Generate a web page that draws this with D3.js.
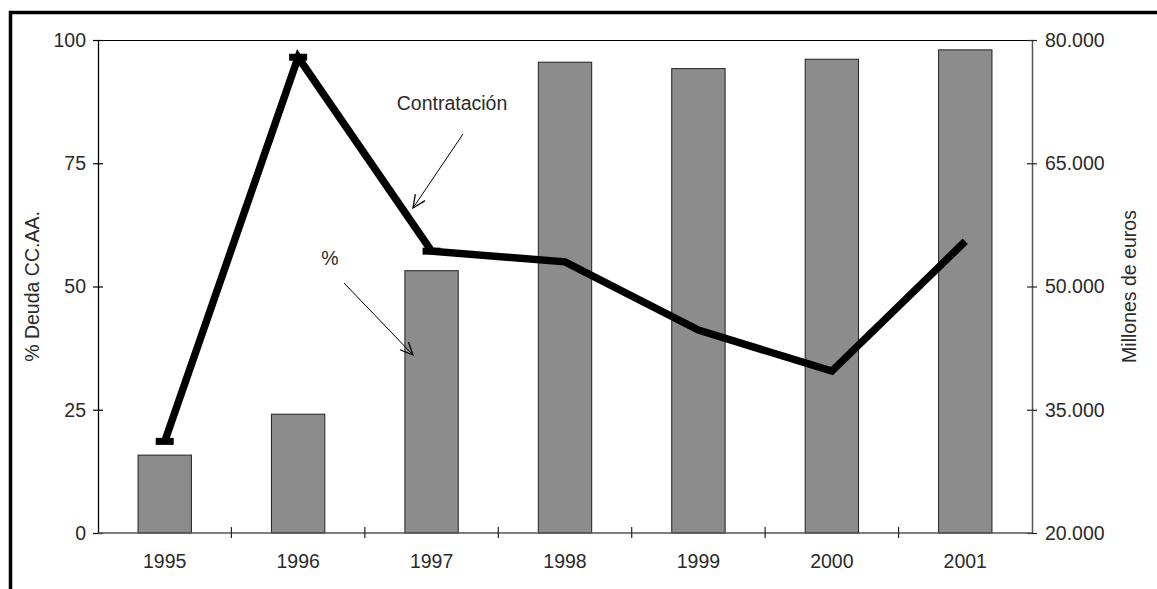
<!DOCTYPE html>
<html>
<head>
<meta charset="utf-8">
<script src="https://cdn.jsdelivr.net/npm/d3@7"></script>
<style>
  body { margin: 0; background: #fff; }
  text { font-family: "Liberation Sans", Arial, sans-serif; fill: #2a2a2a; }
</style>
</head>
<body>
<svg id="chart" width="1157" height="589"></svg>
<script>
// chart data
const years = ["1995", "1996", "1997", "1998", "1999", "2000", "2001"];
const pctDeuda = [15.8, 24.1, 53.2, 95.5, 94.2, 96.1, 98.0];
const contratacion = [31150, 77900, 54300, 53000, 44700, 39700, 55500];
const showMarker = [true, true, true, false, false, false, false];
const leftTicks = [0, 25, 50, 75, 100];
const rightTicks = [20000, 35000, 50000, 65000, 80000];

const width = 1157, height = 589;
const margin = {top: 40, right: 125, bottom: 56, left: 98};
const fs = "19.5px";

const svg = d3.select("#chart");

// outer frame (cut off at right and bottom)
svg.append("rect")
  .attr("x", 10.5).attr("y", 12.5)
  .attr("width", 1200).attr("height", 700)
  .attr("fill", "none").attr("stroke", "#000").attr("stroke-width", 3.5);

const x = d3.scaleBand()
  .domain(years)
  .range([margin.left, width - margin.right])
  .paddingInner(0.6).paddingOuter(0.3);

const xTicks = d3.scaleLinear()
  .domain([0, years.length])
  .range([margin.left, width - margin.right]);

const yL = d3.scaleLinear().domain([0, 100]).range([height - margin.bottom, margin.top]);
const yR = d3.scaleLinear().domain([20000, 80000]).range([height - margin.bottom, margin.top]);

const x0 = margin.left, x1 = width - margin.right;
const yTop = margin.top, yBot = height - margin.bottom;

// top border of plot area
svg.append("line")
  .attr("x1", x0).attr("x2", x1).attr("y1", yTop + 0.5).attr("y2", yTop + 0.5)
  .attr("stroke", "#000").attr("stroke-width", 1.2);

// bars
svg.append("g")
  .selectAll("rect")
  .data(pctDeuda)
  .join("rect")
  .attr("x", (d, i) => x(years[i]))
  .attr("y", d => yL(d))
  .attr("width", x.bandwidth())
  .attr("height", d => yBot - yL(d))
  .attr("fill", "#8c8c8c")
  .attr("stroke", "#222")
  .attr("stroke-width", 1);

// left axis
const gL = svg.append("g").attr("transform", `translate(${x0},0)`)
  .call(d3.axisLeft(yL).tickValues(leftTicks).tickSize(0).tickPadding(12));
gL.select(".domain").attr("stroke", "#000").attr("stroke-width", 1.3);
gL.selectAll(".tick").append("line")
  .attr("x1", -5).attr("x2", 5).attr("stroke", "#000").attr("stroke-width", 1.2);
gL.selectAll("text").style("font-size", fs).attr("fill", "#2a2a2a");

// right axis
const gR = svg.append("g").attr("transform", `translate(${x1},0)`)
  .call(d3.axisRight(yR).tickValues(rightTicks).tickSize(0).tickPadding(13)
    .tickFormat(d => d3.format(",")(d).replace(/,/g, ".")));
gR.select(".domain").attr("stroke", "#555").attr("stroke-width", 1.5);
gR.selectAll(".tick").append("line")
  .attr("x1", -5).attr("x2", 5).attr("stroke", "#222").attr("stroke-width", 1.2);
gR.selectAll("text").style("font-size", fs).attr("fill", "#2a2a2a");

// bottom axis
svg.append("line")
  .attr("x1", x0).attr("x2", x1).attr("y1", yBot).attr("y2", yBot)
  .attr("stroke", "#555").attr("stroke-width", 1.5);
svg.append("g")
  .selectAll("line")
  .data(d3.range(1, years.length))
  .join("line")
  .attr("x1", d => xTicks(d)).attr("x2", d => xTicks(d))
  .attr("y1", yBot - 6).attr("y2", yBot + 5)
  .attr("stroke", "#222").attr("stroke-width", 1.2);
svg.append("g")
  .selectAll("text")
  .data(years)
  .join("text")
  .attr("x", d => x(d) + x.bandwidth() / 2)
  .attr("y", yBot + 35)
  .attr("text-anchor", "middle")
  .style("font-size", fs)
  .text(d => d);

// axis titles
svg.append("text")
  .attr("transform", `translate(39,${(yTop + yBot) / 2}) rotate(-90)`)
  .attr("text-anchor", "middle")
  .style("font-size", fs)
  .text("% Deuda CC.AA.");
svg.append("text")
  .attr("transform", `translate(1136,${(yTop + yBot) / 2}) rotate(-90)`)
  .attr("text-anchor", "middle")
  .style("font-size", fs)
  .text("Millones de euros");

// line series
const cx = i => x(years[i]) + x.bandwidth() / 2;
const line = d3.line().x((d, i) => cx(i)).y(d => yR(d));
svg.append("path")
  .datum(contratacion)
  .attr("d", line)
  .attr("fill", "none")
  .attr("stroke", "#000")
  .attr("stroke-width", 7.5)
  .attr("stroke-linejoin", "miter");
svg.append("g")
  .selectAll("rect")
  .data(contratacion.map((v, i) => ({v, i})).filter(d => showMarker[d.i]))
  .join("rect")
  .attr("x", d => cx(d.i) - 9)
  .attr("y", d => yR(d.v) - 3.5)
  .attr("width", 18).attr("height", 7)
  .attr("fill", "#000");

// annotations with open arrowheads
const defs = svg.append("defs");
defs.append("marker")
  .attr("id", "open")
  .attr("viewBox", "0 0 12 12")
  .attr("refX", 11).attr("refY", 6)
  .attr("markerWidth", 14).attr("markerHeight", 14)
  .attr("markerUnits", "userSpaceOnUse")
  .attr("orient", "auto")
  .append("path")
  .attr("d", "M0,1 L11,6 L0,11")
  .attr("fill", "none").attr("stroke", "#000").attr("stroke-width", 1.1);

svg.append("text")
  .attr("x", 452).attr("y", 110)
  .attr("text-anchor", "middle")
  .style("font-size", fs)
  .text("Contratación");
svg.append("line")
  .attr("x1", 463).attr("y1", 134).attr("x2", 413).attr("y2", 208)
  .attr("stroke", "#000").attr("stroke-width", 1).attr("marker-end", "url(#open)");

svg.append("text")
  .attr("x", 330).attr("y", 265)
  .attr("text-anchor", "middle")
  .style("font-size", fs)
  .text("%");
svg.append("line")
  .attr("x1", 344).attr("y1", 283).attr("x2", 413).attr("y2", 355)
  .attr("stroke", "#000").attr("stroke-width", 1).attr("marker-end", "url(#open)");
</script>
</body>
</html>
